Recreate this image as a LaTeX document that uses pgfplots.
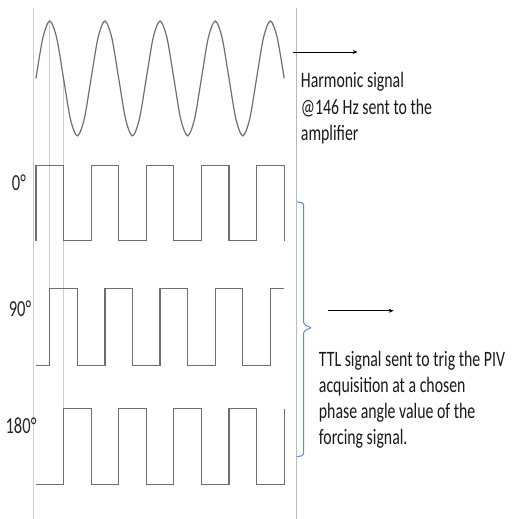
\documentclass[border=0pt]{standalone}
\usepackage{fontspec}
\usepackage{pgfplots}
\pgfplotsset{compat=1.18}
\usetikzlibrary{arrows.meta}
\newfontfamily\lab{Carlito}[FakeStretch=0.72]
\definecolor{sig}{RGB}{110,110,110}
\definecolor{guide}{RGB}{205,205,205}
\definecolor{brc}{RGB}{95,140,205}
\begin{document}
\begin{tikzpicture}
\begin{axis}[
  at={(0,0)}, anchor=south west,
  width=517pt, height=519pt, scale only axis,
  xmin=0, xmax=517, ymin=0, ymax=519, y dir=reverse,
  hide axis, clip=false,
]
\addplot[draw=none] coordinates {(0,0) (517,519)};
% guide lines
\addplot[guide, line width=0.9pt] coordinates {(33,8) (33,519)};
\addplot[guide, line width=0.9pt] coordinates {(49.8,21) (49.8,289)};
\addplot[guide, line width=0.9pt] coordinates {(63.6,78.5) (63.6,409)};
\addplot[guide!90!black, line width=0.9pt] coordinates {(297,8) (297,519)};
% harmonic signal
\addplot[sig, line width=1.2pt, smooth] coordinates {
(36,78.5) (42.9,37.8) (49.8,21) (56.7,37.8) (63.6,78.5) (70.5,119.2) (77.4,136) (84.3,119.2)
(91.2,78.5) (98.1,37.8) (105,21) (111.9,37.8) (118.8,78.5) (125.7,119.2) (132.6,136) (139.5,119.2)
(146.4,78.5) (153.3,37.8) (160.2,21) (167.1,37.8) (174,78.5) (180.9,119.2) (187.8,136) (194.7,119.2)
(201.6,78.5) (208.5,37.8) (215.4,21) (222.3,37.8) (229.2,78.5) (236.1,119.2) (243,136) (249.9,119.2)
(256.8,78.5) (263.7,37.8) (270.6,21) (277.5,37.8) (284.4,78.5)};
% 0 deg
\addplot[sig, line width=1.2pt] coordinates {
(36,241)(36,166)(63.6,166)(63.6,241)(91.2,241)(91.2,166)(118.8,166)(118.8,241)(146.4,241)(146.4,166)
(174,166)(174,241)(201.6,241)(201.6,166)(229.2,166)(229.2,241)(256.8,241)(256.8,166)(284.4,166)(284.4,241)};
% 90 deg
\addplot[sig, line width=1.2pt] coordinates {
(36,366)(49.8,366)(49.8,289)(77.4,289)(77.4,366)(105,366)(105,289)(132.6,289)(132.6,366)(160.2,366)
(160.2,289)(187.8,289)(187.8,366)(215.4,366)(215.4,289)(243,289)(243,366)(270.6,366)(270.6,289)(284.4,289)};
% 180 deg
\addplot[sig, line width=1.2pt] coordinates {
(36,485)(63.6,485)(63.6,409)(91.2,409)(91.2,485)(118.8,485)(118.8,409)(146.4,409)(146.4,485)(174,485)
(174,409)(201.6,409)(201.6,485)(229.2,485)(229.2,409)(256.8,409)(256.8,485)(284.4,485)(284.4,409)};
% arrows
\addplot[black, line width=0.8pt, -{Stealth[length=5pt,width=4pt]}] coordinates {(293,52) (358,52)};
\addplot[black, line width=0.8pt, -{Stealth[length=5pt,width=4pt]}] coordinates {(328,311) (394,311)};
% bracket
\addplot[brc, line width=1pt, rounded corners=2pt] coordinates {
(297,202) (304,203) (304,325) (312,328) (304,331) (304,456) (297,457)};
% labels
\node[anchor=center, text=black!85, font=\lab\fontsize{23}{28}\selectfont] at (axis cs:19,183) {0°};
\node[anchor=center, text=black!85, font=\lab\fontsize{23}{28}\selectfont] at (axis cs:20,309) {90°};
\node[anchor=center, text=black!85, font=\lab\fontsize{23}{28}\selectfont] at (axis cs:21,426) {180°};
\begin{scope}[every node/.style={anchor=base west, inner sep=0pt, text=black!90, font=\lab\fontsize{22}{27}\selectfont}]
\node at (axis cs:301,88) {Harmonic signal};
\node at (axis cs:301,115) {@146 Hz sent to the};
\node at (axis cs:301,141) {amplifier};
\node at (axis cs:319,367) {TTL signal sent to trig the PIV};
\node at (axis cs:319,393) {acquisition at a chosen};
\node at (axis cs:319,419) {phase angle value of the};
\node at (axis cs:319,445) {forcing signal.};
\end{scope}
\end{axis}
\end{tikzpicture}
\end{document}
